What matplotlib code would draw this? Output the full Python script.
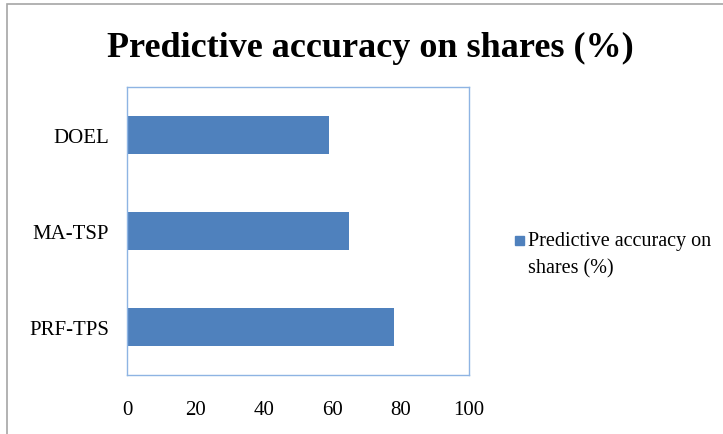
import matplotlib
matplotlib.use("Agg")
import matplotlib.pyplot as plt
from matplotlib.patches import Rectangle

methods = ["PRF-TPS", "MA-TSP", "DOEL"]
accuracy = [78, 65, 59]
series_name = "Predictive accuracy on\nshares (%)"
xticks = [0, 20, 40, 60, 80, 100]
bar_color = "#4f81bd"

plt.rcParams['font.family'] = ['Liberation Serif', 'DejaVu Serif']

fig = plt.figure(figsize=(7.23, 4.35), dpi=100)
# outer chart frame
fig.patches.append(Rectangle((7 / 723, -0.05), 1.1, (435 - 5) / 435 + 0.05,
                             transform=fig.transFigure, fill=False,
                             edgecolor="#a6a6a6", linewidth=1.2))

ax = fig.add_axes([127 / 723, 1 - 376 / 435, (469 - 127) / 723, (376 - 88) / 435])
ax.barh(methods, accuracy, height=0.4, color=bar_color)
ax.set_xlim(0, 100)
ax.set_ylim(-0.5, 2.5)
ax.set_xticks(xticks)
ax.tick_params(length=0, labelsize=15)
ax.tick_params(axis="x", pad=18)
ax.tick_params(axis="y", pad=13)
for s in ax.spines.values():
    s.set_edgecolor("#8eb4e3")
    s.set_linewidth(1.0)

fig.text(370 / 723, 1 - 48 / 435, "Predictive accuracy on shares (%)",
         ha="center", va="center", fontsize=26, fontweight="bold")

# legend: key square next to the first line of the wrapped label
fig.patches.append(Rectangle((515 / 723, 1 - 246 / 435), 9 / 723, 9 / 435,
                             transform=fig.transFigure, color=bar_color))
fig.text(528 / 723, 1 - 232 / 435, series_name, ha="left", va="top",
         fontsize=14.5, linespacing=1.6)

fig.savefig("out.png", dpi=100)
